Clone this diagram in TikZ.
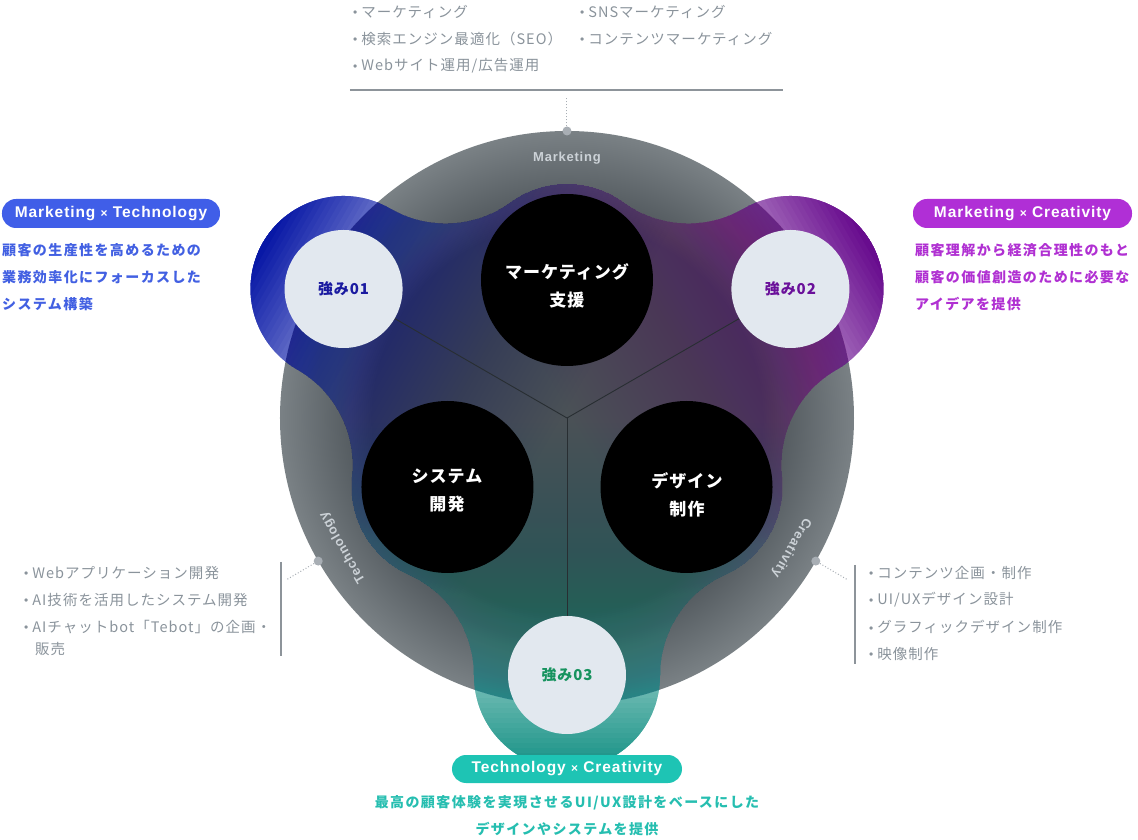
\documentclass[tikz,border=0pt]{standalone}
\usepackage{fontspec}
\setmainfont{Liberation Sans}
\newfontfamily\jpb{Noto Sans CJK JP}[LetterSpace=10]
\newfontfamily\jpl{Noto Sans CJK JP}[LetterSpace=7]
\newfontfamily\jpc{Noto Sans CJK JP}[LetterSpace=6]
\newfontfamily\latb{Liberation Sans}[LetterSpace=6]
\newfontfamily\ringf{Liberation Sans}[LetterSpace=6]

\definecolor{lobeblue}{RGB}{8,24,166}
\definecolor{lobepurple}{RGB}{104,12,142}
\definecolor{lobeteal}{RGB}{24,146,134}
\definecolor{ringdark}{RGB}{74,81,86}
\definecolor{ringlight}{RGB}{122,129,133}
\definecolor{strongfill}{RGB}{226,232,239}
\definecolor{listgray}{RGB}{138,147,155}
\definecolor{rulegray}{RGB}{141,148,154}
\definecolor{dotgray}{RGB}{168,174,180}
\definecolor{pillblue}{RGB}{64,94,232}
\definecolor{pillpurple}{RGB}{176,47,214}
\definecolor{pillteal}{RGB}{30,196,180}
\definecolor{txtblue}{RGB}{66,96,226}
\definecolor{txtpurple}{RGB}{176,48,210}
\definecolor{txtteal}{RGB}{38,190,176}
\definecolor{sone}{RGB}{26,26,160}
\definecolor{stwo}{RGB}{106,16,154}
\definecolor{sthree}{RGB}{23,147,95}
\definecolor{labelgray}{RGB}{204,210,215}
\definecolor{spokecol}{RGB}{40,46,50}

\pgfdeclareradialshading{ringshade}{\pgfpointorigin}{color(0bp)=(ringdark); color(17bp)=(ringdark); color(25bp)=(ringlight); color(50bp)=(ringlight)}

\def\blobpath{(56.54,215.57)
 arc[start angle=53.91,end angle=126.09,radius=96]
 arc[start angle=306.09,end angle=239.80,radius=110]
 arc[start angle=59.80,end angle=240.20,radius=93]
 arc[start angle=60.20,end angle=-6.09,radius=110]
 arc[start angle=173.91,end angle=246.09,radius=96]
 arc[start angle=66.09,end angle=-0.20,radius=110]
 arc[start angle=179.80,end angle=360.20,radius=93]
 arc[start angle=180.20,end angle=113.91,radius=110]
 arc[start angle=293.91,end angle=366.09,radius=96]
 arc[start angle=186.09,end angle=119.80,radius=110]
 arc[start angle=299.80,end angle=480.20,radius=93]
 arc[start angle=300.20,end angle=233.91,radius=110]
 -- cycle}

\newcommand\bul{\raisebox{0.6pt}{\rmfamily\fontsize{12}{12}\selectfont\char"2022}\hspace{4pt}}

\tikzset{
  declare function={lobealpha(\p)=((\p<0.001)?0:((\p<100)?(0.1*\p/100):((\p<180)?(0.1+0.23*(\p-100)/80):((\p<256)?(0.33+0.25*(\p-180)/76):((\p<290)?(0.58+0.17*(\p-256)/34):((\p<345)?(0.75+0.25*(\p-290)/55):1))))));},
  spoke/.style={draw=spokecol, line width=0.9pt},
  blackc/.style={circle, fill=black, minimum size=172pt, inner sep=0pt},
  bigtext/.style={text=white, align=center, inner sep=0pt, font=\jpc\bfseries\fontsize{17}{28}\selectfont},
  strongc/.style={circle, fill=strongfill, minimum size=118pt, inner sep=0pt, font=\jpc\bfseries\fontsize{15}{15}\selectfont},
  ringlabel/.style={text=labelgray, inner sep=0pt, font=\ringf\bfseries\fontsize{13}{13}\selectfont},
  gdot/.style={circle, fill=dotgray, minimum size=9pt, inner sep=0pt},
  dotline/.style={draw=dotgray, line width=1pt, dotted},
  rulel/.style={draw=rulegray, line width=1.3pt},
  pill/.style={rounded corners=14pt, minimum height=29pt, inner sep=0pt, text=white, font=\latb\bfseries\fontsize{15.5}{15.5}\selectfont},
  desc/.style={inner sep=0pt, font=\jpb\bfseries\fontsize{14}{27}\selectfont},
  listtxt/.style={anchor=west, inner sep=0pt, text=listgray, font=\jpl\fontsize{14.5}{14.5}\selectfont},
}

\begin{document}
\begin{tikzpicture}[x=1pt,y=1pt]
\useasboundingbox (-567,-422) rectangle (571,418);

% gray ring
\shade[shading=ringshade] (0,0) circle[radius=287];

% coloured blob
\begin{scope}
  \clip \blobpath;
  \foreach \ang/\col in {150/lobeblue,30/lobepurple,270/lobeteal}{
    \begin{scope}[rotate=\ang]
      \foreach \k in {0,...,74}{
        \pgfmathsetmacro\tpos{-20+5*\k}
        \pgfmathsetmacro\myA{lobealpha(\tpos)}
        \pgfmathsetmacro\myB{lobealpha(\tpos-5)}
        \pgfmathsetmacro\myC{max(0,min(1,1-(1-\myA)/max(1-\myB,0.0001)))}
        \fill[\col, fill opacity=\myC] (\tpos,-430) rectangle (440,430);
      }
    \end{scope}
  }
\end{scope}

% centre and spokes
\coordinate (C) at (0,0);
\coordinate (c1) at (150:258);
\coordinate (c2) at (30:258);
\coordinate (c3) at (270:257);
\draw[spoke] (C) -- (c1);
\draw[spoke] (C) -- (c2);
\draw[spoke] (C) -- (c3);

% black circles
\node[blackc] (mk) at (90:138) {};
\node[blackc] (sy) at (210:138) {};
\node[blackc] (de) at (330:138) {};
\node[bigtext] (mkt) at (0,132) {マーケティング\\支援};
\node[bigtext] (syt) at (-120,-73) {システム\\開発};
\node[bigtext] (det) at (120,-77) {デザイン\\制作};

% strength circles
\node[strongc, text=sone] (s1) at (c1) {強み01};
\node[strongc, text=stwo] (s2) at (c2) {強み02};
\node[strongc, text=sthree] (s3) at (c3) {強み03};

% ring labels
\node[ringlabel, rotate=0] (lm) at (90:260) {Marketing};
\node[ringlabel, rotate=120] (lt) at (210:259) {Technology};
\node[ringlabel, rotate=240] (lc) at (330:259) {Creativity};

% dots and dotted connectors
\node[gdot] (dm) at (90:287) {};
\node[gdot] (dt) at (209.9:287) {};
\node[gdot] (dc) at (330.1:287) {};
\coordinate (dmend) at (0,321);
\coordinate (dtend) at (-281,-162);
\coordinate (dcend) at (281,-162);
\draw[dotline] (dm) -- (dmend);
\draw[dotline] (dt) -- (dtend);
\draw[dotline] (dc) -- (dcend);

% rules
\coordinate (r1a) at (-217,328);
\coordinate (r1b) at (216,328);
\draw[rulel] (r1a) -- (r1b);
\coordinate (r2a) at (-286,-144);
\coordinate (r2b) at (-286,-238);
\draw[rulel] (r2a) -- (r2b);
\coordinate (r3a) at (288,-147);
\coordinate (r3b) at (288,-246);
\draw[rulel] (r3a) -- (r3b);

% top lists
\node[listtxt] (t1) at (-214,406) {\bul マーケティング};
\node[listtxt] (t2) at (-214,379) {\bul 検索エンジン最適化（SEO）};
\node[listtxt] (t3) at (-214,352) {\bul Webサイト運用/広告運用};
\node[listtxt] (t4) at (13,406) {\bul SNSマーケティング};
\node[listtxt] (t5) at (13,379) {\bul コンテンツマーケティング};

% left list
\node[listtxt] (l1) at (-543,-155) {\bul Webアプリケーション開発};
\node[listtxt] (l2) at (-543,-182) {\bul AI技術を活用したシステム開発};
\node[listtxt] (l3) at (-543,-209) {\bul AIチャットbot「Tebot」の企画・};
\node[listtxt] (l4) at (-532,-231) {販売};

% right list
\node[listtxt] (q1) at (302,-155) {\bul コンテンツ企画・制作};
\node[listtxt] (q2) at (302,-182) {\bul UI/UXデザイン設計};
\node[listtxt] (q3) at (302,-209) {\bul グラフィックデザイン制作};
\node[listtxt] (q4) at (302,-236) {\bul 映像制作};

% pills
\node[pill, fill=pillblue, minimum width=218pt] (p1) at (-456,204.5) {Marketing {\fontsize{12}{12}\selectfont ×} Technology};
\node[pill, fill=pillpurple, minimum width=219pt] (p2) at (455.5,204.5) {Marketing {\fontsize{12}{12}\selectfont ×} Creativity};
\node[pill, fill=pillteal, minimum width=230pt, minimum height=28pt] (p3) at (0,-351) {Technology {\fontsize{12}{12}\selectfont ×} Creativity};

% descriptions
\node[desc, text=txtblue, anchor=west, align=left] (d1) at (-565,141) {顧客の生産性を高めるための\\業務効率化にフォーカスした\\システム構築};
\node[desc, text=txtpurple, anchor=west, align=left] (d2) at (348,141) {顧客理解から経済合理性のもと\\顧客の価値創造のために必要な\\アイデアを提供};
\node[desc, text=txtteal, align=center] (d3) at (0,-397.5) {最高の顧客体験を実現させるUI/UX設計をベースにした\\デザインやシステムを提供};
\end{tikzpicture}
\end{document}
